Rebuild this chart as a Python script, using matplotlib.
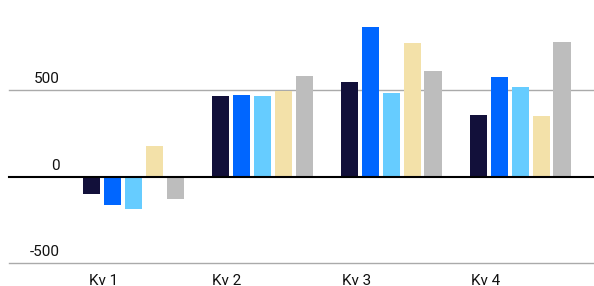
import matplotlib
matplotlib.use("Agg")
import matplotlib.pyplot as plt
import matplotlib.transforms as mtransforms
import numpy as np

categories = ["Kv 1", "Kv 2", "Kv 3", "Kv 4"]
series_a = [-98, 463, 544, 358]
series_b = [-162, 474, 863, 573]
series_c = [-185, 463, 486, 515]
series_d = [178, 492, 770, 352]
series_e = [-127, 584, 608, 776]
y_ticks = [-500, 0, 500]
y_tick_labels = ["-500", "0", "500"]

colors = ["#12103A", "#0066FF", "#66CCFF", "#F3E1A9", "#BDBDBD"]
series = [series_a, series_b, series_c, series_d, series_e]

plt.rcParams["font.family"] = ["Roboto", "DejaVu Sans"]

fig = plt.figure(figsize=(5.94, 2.86), dpi=100)
ax = fig.add_axes([9 / 594, 22.7 / 286, 1 - 9 / 594, 1 - 22.7 / 286])

x = np.arange(len(categories))
step = 0.161
width = 0.132
for j, (vals, c) in enumerate(zip(series, colors)):
    ax.bar(x + (j - 2) * step, vals, width=width, color=c, zorder=2)

ax.set_xlim(-0.965, 3.57)
ax.set_ylim(-500, 1020)

for yv in y_ticks:
    if yv == 0:
        ax.axhline(yv, color="black", lw=1.5, zorder=3, clip_on=False)
    else:
        ax.axhline(yv, color="#aaaaaa", lw=1.0, zorder=1, clip_on=False)

trans = mtransforms.blended_transform_factory(fig.transFigure, ax.transData)
for yv, lab in zip(y_ticks, y_tick_labels):
    ax.annotate(lab, xy=(60 / 594, yv), xycoords=trans, xytext=(0, 4),
                textcoords="offset pixels", ha="right", va="bottom",
                fontsize=11, color="#111111")

for s in ax.spines.values():
    s.set_visible(False)
ax.set_yticks([])
label_offsets = [-0.23, -0.28, -0.27, -0.27]
ax.set_xticks(x + np.array(label_offsets))
ax.set_xticklabels(categories, fontsize=11, color="#111111")
ax.tick_params(axis="x", length=0, pad=8)

fig.savefig("out.png", dpi=100)
